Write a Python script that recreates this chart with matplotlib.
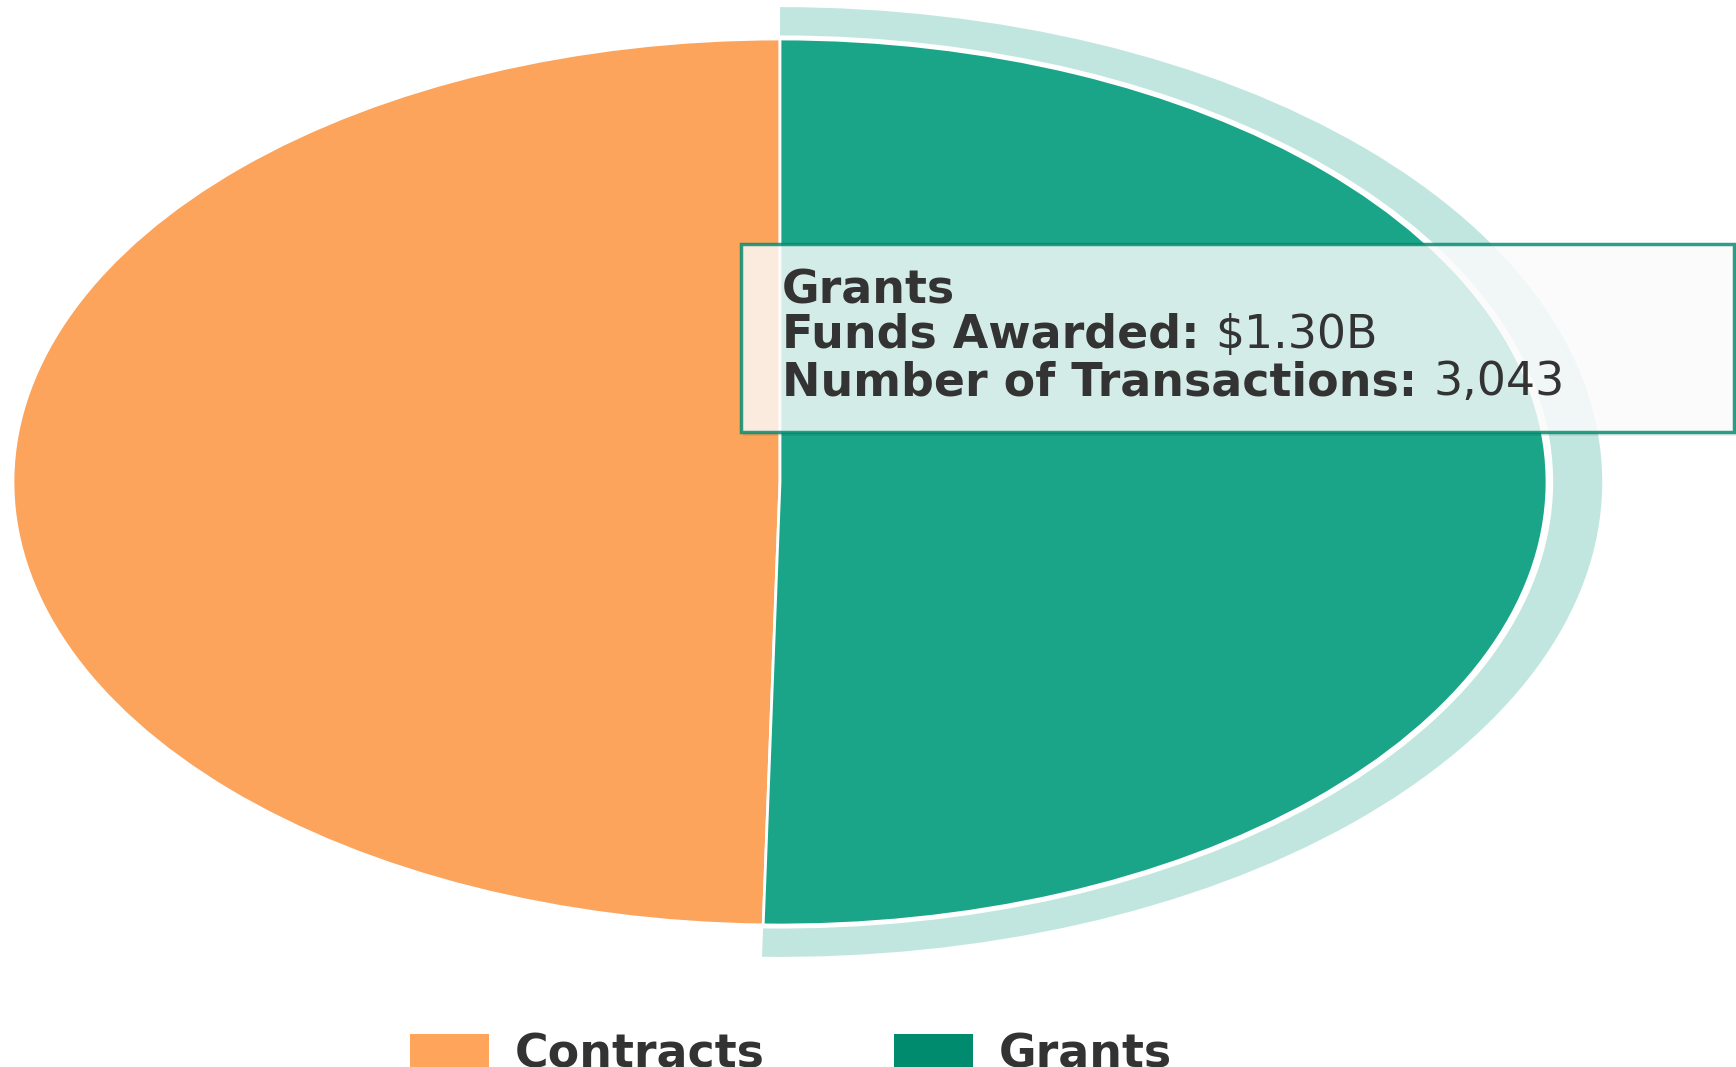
import matplotlib.pyplot as plt
from matplotlib.patches import Wedge, Rectangle

# data
labels = ["Contracts", "Grants"]
funds = [1.282, 1.30]          # billions (contracts)
colors = ["#fca35c", "#1aa589"]
legend_colors = ["#fea45b", "#008b6f"]
tip_title = "Grants"
tip_rows = [("Funds Awarded:", "$1.30B"), ("Number of Transactions:", "3,043")]

W, H = 1736, 1067
fig = plt.figure(figsize=(W / 100, H / 100), dpi=100)

# pie axes = the ellipse bounding box (pie is stretched, not round)
cx, cy, rx, ry = 780, 482, 767, 443
ax = fig.add_axes([(cx - rx) / W, 1 - (cy + ry) / H, 2 * rx / W, 2 * ry / H])
wedges, _ = ax.pie(funds, colors=colors, startangle=90, counterclock=True,
                   radius=1, wedgeprops=dict(edgecolor="white", linewidth=2))
ax.set_xlim(-1, 1)
ax.set_ylim(-1, 1)
ax.set_aspect("auto")
ax.axis("off")
for w in wedges:
    w.set_clip_on(False)

# hover halo round the grants slice
g = wedges[1]
halo = Wedge((0, 0), 1.072, g.theta1, g.theta2, width=0.064,
             facecolor="#1aa589", alpha=0.27, edgecolor="none", clip_on=False)
ax.add_patch(halo)

# overlay in pixel coords for tooltip and legend
ov = fig.add_axes([0, 0, 1, 1])
ov.set_xlim(0, W)
ov.set_ylim(H, 0)
ov.axis("off")
ov.patch.set_alpha(0)
ov.add_patch(Rectangle((743, 246), 1000, 190, facecolor="#000000", alpha=0.07,
                       edgecolor="none"))
ov.add_patch(Rectangle((741, 244), 993, 188, facecolor="white", alpha=0.82,
                       edgecolor="#00896e", linewidth=2.5))

fs = 33
kw = dict(fontsize=fs, color="#333333", va="baseline", family="DejaVu Sans")
fig.canvas.draw()
rend = fig.canvas.get_renderer()


def put(x, y, s, weight):
    t = ov.text(x, y, s, fontweight=weight, **kw)
    return x + t.get_window_extent(rend).width


put(782, 303, tip_title, "bold")
for (k, v), by in zip(tip_rows, [348, 395]):
    x = put(782, by, k + " ", "bold")
    put(x, by, v, "normal")

# legend, cut at bottom edge like the reference
for i, (lab, c) in enumerate(zip(labels, legend_colors)):
    lx = 410 + 484 * i
    ov.add_patch(Rectangle((lx, 1034), 79, 40, facecolor=c, edgecolor="none"))
    put(lx + 105, 1067, lab, "bold")

fig.savefig("out.png", dpi=100)
